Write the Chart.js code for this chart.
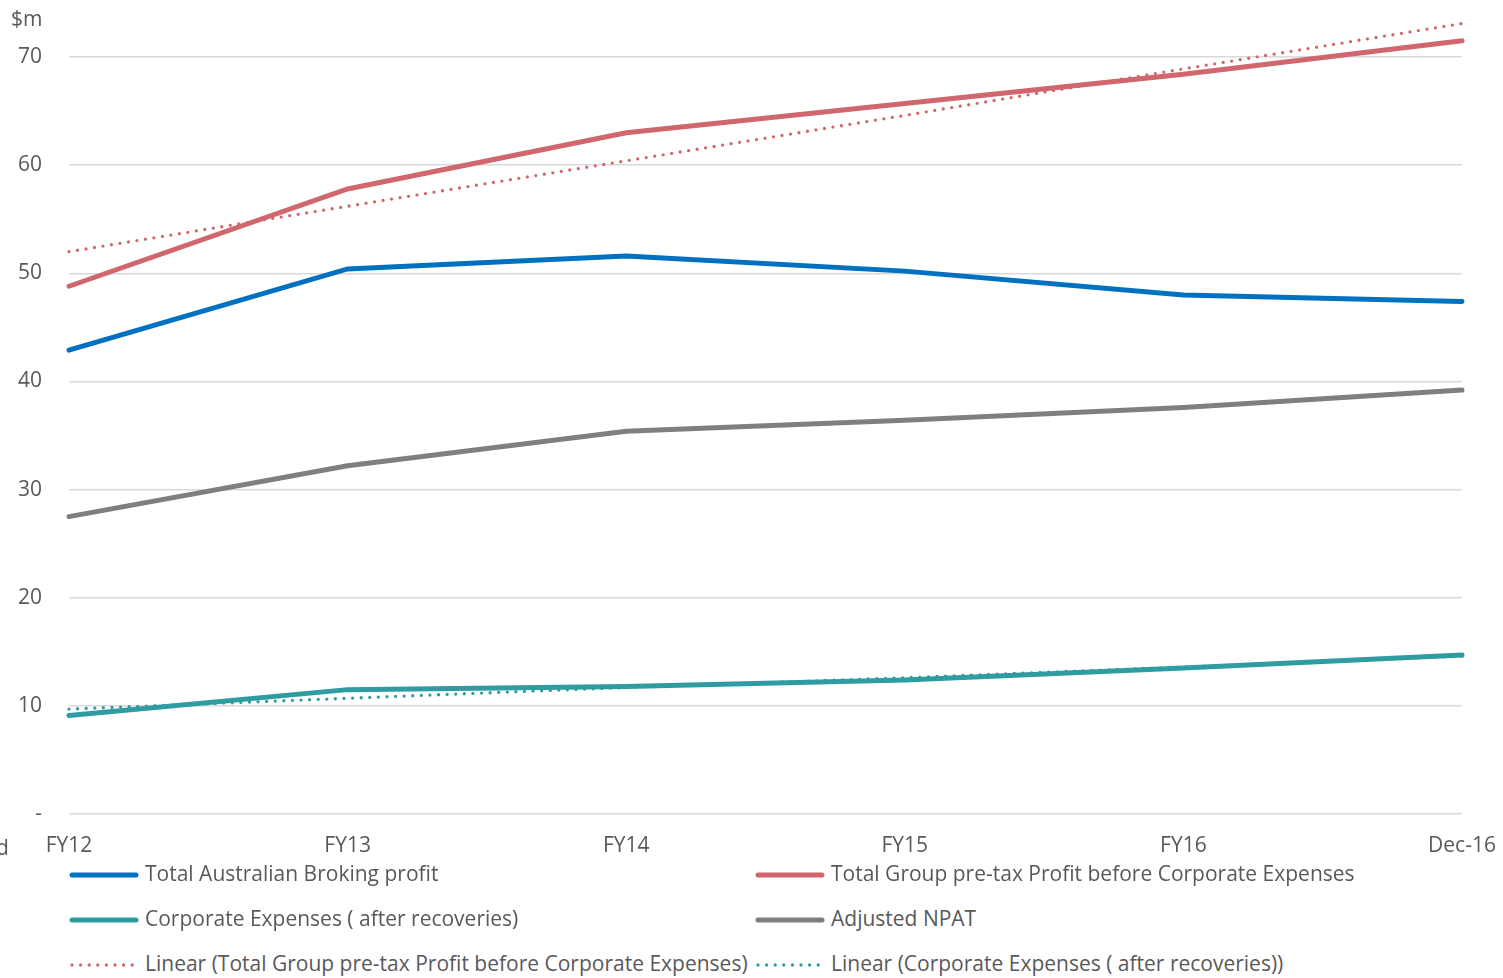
<!DOCTYPE html>
<html>
<head>
<meta charset="utf-8">
<script src="https://cdn.jsdelivr.net/npm/chart.js@4.4.1/dist/chart.umd.min.js"></script>
<style>
  body { margin: 0; background: #fff; font-family: "Open Sans", sans-serif; color: #595959; }
  #wrap { position: relative; width: 1503px; height: 978px; }
  #chart { position: absolute; left: 0; top: 0; }
  #unit { position: absolute; left: 11px; top: 4px; font-size: 21px; }
  #cut { position: absolute; left: -4px; top: 833px; font-size: 21px; }
  .leg { position: absolute; font-size: 21px; white-space: nowrap; line-height: 24px; }
  .leg canvas { vertical-align: middle; margin-right: 6px; }
</style>
</head>
<body>
<div id="wrap">
  <canvas id="chart" width="1503" height="860"></canvas>
  <div id="unit">$m</div>
  <div id="cut">d</div>
  <div id="legend"></div>
</div>
<script>
// ===== data
const years = ['FY12', 'FY13', 'FY14', 'FY15', 'FY16', 'Dec-16'];
const broking = [42.9, 50.4, 51.6, 50.2, 48.0, 47.4];
const groupProfit = [48.8, 57.8, 63.0, 65.7, 68.4, 71.5];
const corpExpenses = [9.1, 11.5, 11.8, 12.4, 13.5, 14.7];
const npat = [27.5, 32.2, 35.4, 36.4, 37.6, 39.2];
const groupTrend = [52.0, 56.2, 60.4, 64.6, 68.9, 73.1];
const corpTrend = [9.7, 10.7, 11.7, 12.6, 13.6, 14.6];

const BLUE = '#0070C0', RED = '#D0676E', TEAL = '#2E9CA0', GREY = '#7F7F7F';

function solid(label, data, color) {
  return { label: label, data: data, borderColor: color, backgroundColor: color,
    borderWidth: 5, pointRadius: 0, tension: 0, borderCapStyle: 'round', clip: false };
}
function dotted(label, data, color) {
  return { label: label, data: data, borderColor: color, backgroundColor: color,
    borderWidth: 3.3, borderDash: [0, 8.6], borderCapStyle: 'round', pointRadius: 0, tension: 0,
    clip: false, order: 2 };
}

const datasets = [
  solid('Total Australian Broking profit', broking, BLUE),
  solid('Total Group pre-tax Profit before Corporate Expenses', groupProfit, RED),
  solid('Corporate Expenses ( after recoveries)', corpExpenses, TEAL),
  solid('Adjusted NPAT', npat, GREY),
  dotted('Linear (Total Group pre-tax Profit before Corporate Expenses)', groupTrend, RED),
  dotted('Linear (Corporate Expenses ( after recoveries))', corpTrend, TEAL)
];

new Chart(document.getElementById('chart'), {
  type: 'line',
  data: { labels: years, datasets: datasets },
  options: {
    responsive: false,
    animation: false,
    layout: { padding: { top: 57, right: 41, left: 0, bottom: 0 } },
    plugins: { legend: { display: false }, tooltip: { enabled: false } },
    scales: {
      x: {
        offset: false,
        grid: { display: false, drawTicks: false },
        border: { display: false },
        ticks: { color: '#595959', font: { family: 'Open Sans', size: 21 }, padding: 19, maxRotation: 0, autoSkip: false },
        afterFit: function (s) { s.height = 46; s.paddingRight = 0; s.paddingLeft = 0; }
      },
      y: {
        min: 0, max: 70,
        grid: { color: '#D9D9D9', lineWidth: 1.5, drawTicks: false },
        border: { display: false },
        ticks: {
          stepSize: 10,
          color: '#595959', font: { family: 'Open Sans', size: 21 }, padding: 27,
          callback: v => v === 0 ? '-' : v
        },
        afterFit: function (s) { s.width = 69; s.paddingTop = 0; s.paddingBottom = 0; }
      }
    }
  }
});

// ===== legend (two columns, three rows)
const legendPos = [
  [69, 874], [755, 874],
  [69, 919], [755, 919],
  [69, 964], [755, 964]
];
const legend = document.getElementById('legend');
datasets.forEach(function (ds, k) {
  const div = document.createElement('div');
  div.className = 'leg';
  div.style.left = legendPos[k][0] + 'px';
  div.style.top = (legendPos[k][1] - 13) + 'px';
  const c = document.createElement('canvas');
  c.width = 70; c.height = 10;
  const g = c.getContext('2d');
  g.strokeStyle = ds.borderColor;
  g.lineCap = 'round';
  g.lineWidth = ds.borderDash ? 3.3 : 5;
  if (ds.borderDash) g.setLineDash(ds.borderDash);
  g.beginPath(); g.moveTo(3, 5); g.lineTo(67, 5); g.stroke();
  div.appendChild(c);
  div.appendChild(document.createTextNode(ds.label));
  legend.appendChild(div);
});
</script>
</body>
</html>
